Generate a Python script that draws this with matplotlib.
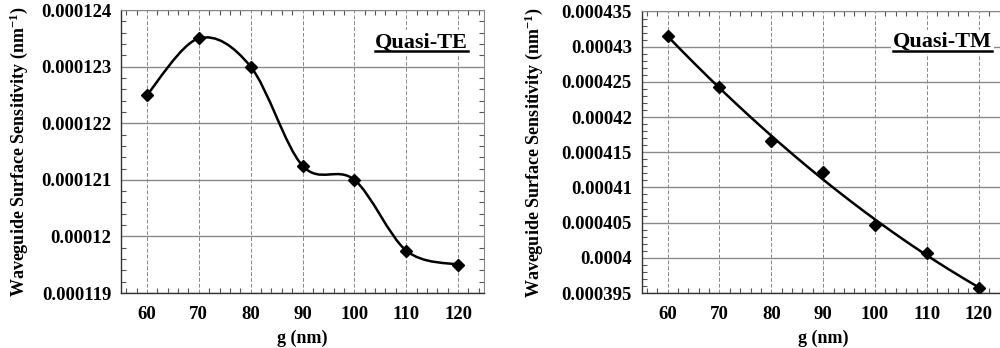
import numpy as np
import matplotlib
matplotlib.use("Agg")
import matplotlib.pyplot as plt
from matplotlib.path import Path
from matplotlib.patches import PathPatch
from matplotlib.ticker import MultipleLocator, AutoMinorLocator
from matplotlib.lines import Line2D

#########################
# DATA
#########################
g_nm = [60, 70, 80, 90, 100, 110, 120]
te_sens = [0.0001225, 0.0001235, 0.000123, 0.00012125, 0.000121, 0.00011975, 0.0001195]
tm_sens = [0.00043155, 0.00042426, 0.00041653, 0.00041223, 0.0004047, 0.0004007, 0.0003957]

te_yticks = [0.000119, 0.00012, 0.000121, 0.000122, 0.000123, 0.000124]
te_ylabels = ["0.000119", "0.00012", "0.000121", "0.000122", "0.000123", "0.000124"]
tm_yticks = [0.000395, 0.0004, 0.000405, 0.00041, 0.000415, 0.00042, 0.000425, 0.00043, 0.000435]
tm_ylabels = ["0.000395", "0.0004", "0.000405", "0.00041", "0.000415", "0.00042",
              "0.000425", "0.00043", "0.000435"]
xticks = [60, 70, 80, 90, 100, 110, 120]

#########################
# STYLE
#########################
plt.rcParams['font.family'] = ['Liberation Serif', 'DejaVu Serif']
plt.rcParams['font.weight'] = 'bold'
plt.rcParams['mathtext.fontset'] = 'custom'
plt.rcParams['mathtext.rm'] = 'Liberation Serif:bold'
plt.rcParams['mathtext.it'] = 'Liberation Serif:bold'
plt.rcParams['mathtext.bf'] = 'Liberation Serif:bold'

YLABEL = "Waveguide Surface Sensitivity (nm$^{\\mathrm{-1}}$)"


def smooth_path(xs, ys):
    # Excel-like smoothed line: cubic Bezier segments, control points from neighbours
    n = len(xs)
    verts = [(xs[0], ys[0])]
    codes = [Path.MOVETO]
    for i in range(n - 1):
        im1 = max(i - 1, 0)
        ip2 = min(i + 2, n - 1)
        c1 = (xs[i] + (xs[i + 1] - xs[im1]) / 6.0, ys[i] + (ys[i + 1] - ys[im1]) / 6.0)
        c2 = (xs[i + 1] - (xs[ip2] - xs[i]) / 6.0, ys[i + 1] - (ys[ip2] - ys[i]) / 6.0)
        verts += [c1, c2, (xs[i + 1], ys[i + 1])]
        codes += [Path.CURVE4] * 3
    return Path(verts, codes)


def style_axes(ax, yticks, ylabels, yminor):
    ax.set_xlim(55, 125)
    ax.set_xticks(xticks)
    ax.set_xticklabels([str(v) for v in xticks])
    ax.xaxis.set_minor_locator(MultipleLocator(2))
    ax.set_ylim(yticks[0], yticks[-1])
    ax.set_yticks(yticks)
    ax.set_yticklabels(ylabels)
    ax.yaxis.set_minor_locator(AutoMinorLocator(yminor))
    ax.tick_params(which='both', direction='in', top=True, right=True,
                   color='#555555', labelsize=13.5, width=0.8)
    ax.tick_params(which='major', length=0)
    ax.tick_params(which='minor', length=3.5)
    ax.tick_params(axis='y', pad=7)
    ax.tick_params(axis='x', pad=9)
    ax.grid(axis='y', which='major', color='#8a8a8a', linestyle='-', linewidth=1.0)
    ax.grid(axis='x', which='major', color='#8a8a8a', linestyle=(0, (4, 2)), linewidth=0.7)
    ax.set_axisbelow(True)
    for side in ['left', 'bottom']:
        ax.spines[side].set_color('#333333')
        ax.spines[side].set_linewidth(1.0)
    for side in ['top', 'right']:
        ax.spines[side].set_color('#888888')
        ax.spines[side].set_linewidth(0.8)
    ax.set_xlabel("g (nm)", fontsize=13, fontweight='bold')
    ax.set_ylabel(YLABEL, fontsize=13, fontweight='bold')
    ax.xaxis.set_label_coords(0.5, -0.13)


def underlined_title(fig, ax, text, x, y):
    t = ax.text(x, y, text, transform=ax.transAxes, ha='right', va='baseline',
                fontsize=16, fontweight='bold', zorder=5,
                bbox=dict(facecolor='white', edgecolor='none', pad=1.5))
    fig.canvas.draw()
    bb = t.get_window_extent().transformed(ax.transAxes.inverted())
    uy = y - 0.013
    ax.add_line(Line2D([bb.x0, bb.x1], [uy, uy], transform=ax.transAxes,
                       color='black', linewidth=1.8, zorder=6))


fig = plt.figure(figsize=(10, 3.48), dpi=100)

#########################
# Quasi-TE
#########################
ax1 = fig.add_axes([0.121, 0.158, 0.363, 0.813])
style_axes(ax1, te_yticks, te_ylabels, 5)
ax1.add_patch(PathPatch(smooth_path(g_nm, te_sens), facecolor='none',
                        edgecolor='black', linewidth=1.8, zorder=3))
ax1.plot(g_nm, te_sens, linestyle='none', marker='D', markersize=6,
         color='black', zorder=4)
ax1.yaxis.set_label_coords(-0.25, 0.5)

#########################
# Quasi-TM
#########################
ax2 = fig.add_axes([0.6417, 0.158, 0.363, 0.809])
style_axes(ax2, tm_yticks, tm_ylabels, 5)
coef = np.polyfit(g_nm, tm_sens, 2)
gfit = np.linspace(g_nm[0], g_nm[-1], 200)
ax2.plot(gfit, np.polyval(coef, gfit), color='black', linewidth=1.8, zorder=3)
ax2.plot(g_nm, tm_sens, linestyle='none', marker='D', markersize=6,
         color='black', zorder=4)
ax2.yaxis.set_label_coords(-0.266, 0.5)

underlined_title(fig, ax1, "Quasi-TE", 0.955, 0.868)
underlined_title(fig, ax2, "Quasi-TM", 0.965, 0.873)

fig.savefig("out.png", dpi=100)
